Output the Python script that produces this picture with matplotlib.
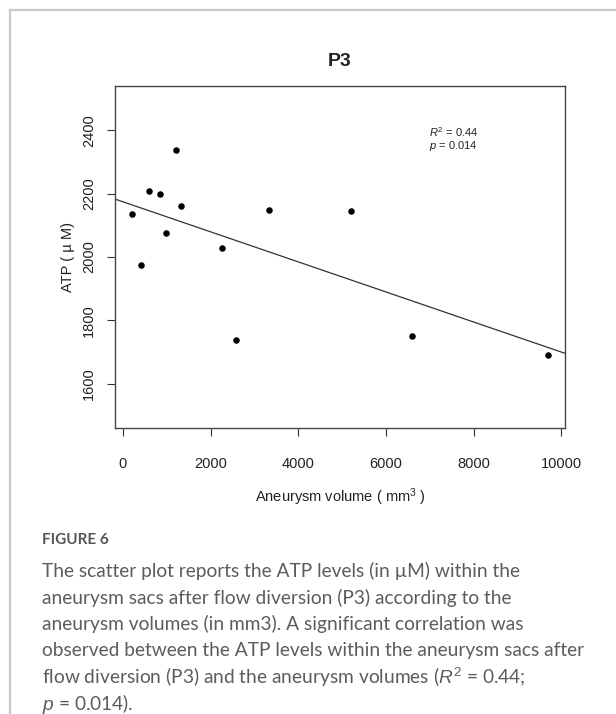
import matplotlib
matplotlib.use("Agg")
import matplotlib.pyplot as plt
from matplotlib.lines import Line2D
import numpy as np

# values
volume = [198, 409, 598, 841, 977, 1220, 1318, 2266, 2584, 3341, 5195, 6591, 9705]
atp = [2137, 1974, 2210, 2200, 2076, 2338, 2160, 2028, 1737, 2150, 2144, 1750, 1690]
x_ticks = [0, 2000, 4000, 6000, 8000, 10000]
y_ticks = [1600, 1800, 2000, 2200, 2400]
y_range = (1500, 2500)

title = "P3"
x_label = "Aneurysm volume ( mm$^3$ )"
y_label = "ATP ( \u00b5 M)"
r2_text = "$R^2$ = 0.44"
p_text = "$p$ = 0.014"
caption_head = "FIGURE 6"
caption_lines = [
    "The scatter plot reports the ATP levels (in \u00b5M) within the",
    "aneurysm sacs after flow diversion (P3) according to the",
    "aneurysm volumes (in mm3). A significant correlation was",
    "observed between the ATP levels within the aneurysm sacs after",
    "flow diversion (P3) and the aneurysm volumes ($R^2$ = 0.44;",
    "$p$ = 0.014).",
]

plt.rcParams["font.family"] = ["Liberation Sans", "DejaVu Sans"]
plt.rcParams["mathtext.fontset"] = "custom"
plt.rcParams["mathtext.rm"] = "Liberation Sans"
plt.rcParams["mathtext.it"] = "Liberation Sans:italic"

W, H = 616, 714
fig = plt.figure(figsize=(W / 100, H / 100), dpi=100)
px = lambda x, y: (x / W, 1 - y / H)  # noqa: E731

# card frame (left and top edges)
frame_c = "#c8c8c8"
fig.add_artist(Line2D([10 / W, 10 / W], [0, 1 - 10 / H], color=frame_c, lw=1.6))
fig.add_artist(Line2D([10 / W, 1], [1 - 10 / H, 1 - 10 / H], color=frame_c, lw=1.6))

ax = fig.add_axes([115 / W, 1 - 428 / H, 450 / W, 342 / H])
ink = "#222222"

ax.scatter(volume, atp, s=22, color="black", zorder=3, linewidths=0)

# least-squares line, spanning the whole plot region like abline()
slope, icpt = np.polyfit(volume, atp, 1)
ax.axline((0, icpt), slope=slope, color="#333333", lw=0.9)

# R-style 4% axis extension
xlo, xhi = min(volume), max(volume)
xp = 0.04 * (xhi - xlo)
ax.set_xlim(xlo - xp, xhi + xp)
yp = 0.04 * (y_range[1] - y_range[0])
ax.set_ylim(y_range[0] - yp, y_range[1] + yp)

ax.set_xticks(x_ticks)
ax.set_yticks(y_ticks)
ax.set_xticklabels([str(v) for v in x_ticks])
ax.set_yticklabels([str(v) for v in y_ticks], rotation=90, va="center")
ax.tick_params(direction="out", length=5.8, width=0.8, color="#333333",
               labelsize=10.5, labelcolor=ink)
ax.tick_params(axis="x", pad=15)
ax.tick_params(axis="y", pad=8)
for s in ax.spines.values():
    s.set_color("#444444")
    s.set_linewidth(1.0)

ax.set_xlabel(x_label, fontsize=10.5, color=ink, va="center")
ax.xaxis.set_label_coords(0.5, -(497 - 428) / 342)
ax.set_ylabel(y_label, fontsize=10.5, color=ink, va="center")
ax.yaxis.set_label_coords(-(115 - 68) / 450, 0.5)

ax.text((429 - 115) / 450, (428 - 132) / 342, r2_text, transform=ax.transAxes,
        fontsize=8, color=ink, va="center", ha="left")
ax.text((429 - 115) / 450, (428 - 146) / 342, p_text, transform=ax.transAxes,
        fontsize=8, color=ink, va="center", ha="left")

fig.text(*px(340, 61), title, fontsize=14, fontweight="bold", color=ink,
         ha="center", va="center")

# caption
fig.text(*px(42, 540), caption_head, fontsize=11, fontweight="bold",
         color="#555555", family=["Lato", "DejaVu Sans"], ha="left", va="center")
for i, line in enumerate(caption_lines):
    fig.text(*px(42, 571 + i * 26.5), line, fontsize=13.8, color="#5c5c5c",
             family=["Lato", "DejaVu Sans"], ha="left", va="center")

fig.savefig("out.png", dpi=100)
